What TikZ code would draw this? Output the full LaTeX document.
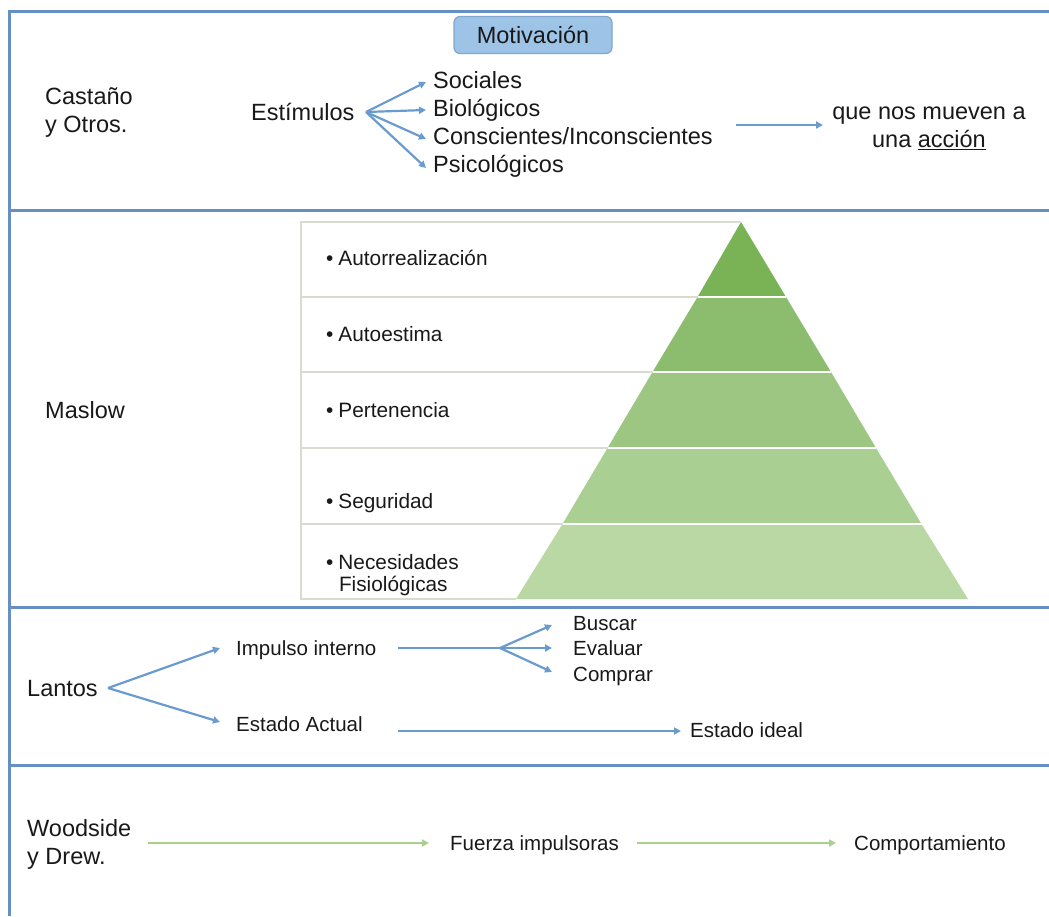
\documentclass[tikz,border=0pt]{standalone}
\usepackage{fontspec}
\setmainfont{Liberation Sans}
\usetikzlibrary{arrows.meta}
\definecolor{frameblue}{HTML}{6690C4}
\definecolor{arrblue}{HTML}{6A9BCF}
\definecolor{boxfill}{HTML}{9DC3E6}
\definecolor{boxdraw}{HTML}{7FA7D0}
\definecolor{arrgreen}{HTML}{A9D18E}
\definecolor{rowline}{HTML}{D6DDD0}
\definecolor{gA}{HTML}{7AB356}
\definecolor{gB}{HTML}{8CBD6E}
\definecolor{gC}{HTML}{9CC682}
\definecolor{gD}{HTML}{AACF93}
\definecolor{gE}{HTML}{B9D8A4}
\tikzset{
  big/.style={font=\fontsize{23.5}{28.5}\selectfont, inner sep=0pt, text=black!90},
  mid/.style={font=\fontsize{20.5}{23}\selectfont, inner sep=0pt, text=black!90},
  small/.style={font=\fontsize{20.8}{22}\selectfont, inner sep=0pt, text=black!90},
  frameline/.style={draw=frameblue, line width=3pt},
  barrow/.style={draw=arrblue, line width=2.2pt, -{Triangle[length=7pt,width=7pt]}},
  bline/.style={draw=arrblue, line width=2.2pt},
  garrow/.style={draw=arrgreen, line width=2.2pt, -{Triangle[length=7pt,width=7pt]}},
}
\begin{document}
\begin{tikzpicture}[x=1pt,y=-1pt]
\useasboundingbox (0,0) rectangle (1049,916);
\fill[white] (0,0) rectangle (1049,916);
% frame
\draw[frameline] (1049,11) -- (9,11) -- (9,916);
\draw[frameline] (9,210) -- (1049,210);
\draw[frameline] (9,607) -- (1049,607);
\draw[frameline] (9,765) -- (1049,765);

% Section 1
\node[big, draw=boxdraw, fill=boxfill, line width=1.2pt, rounded corners=6pt, minimum width=158pt, minimum height=37pt] (mot) at (533,35) {Motivación};
\node[big, anchor=base west, align=left] (cast) at (45,132.5) {Castaño\\y Otros.};
\node[big, anchor=base west] (est) at (251,120.5) {Estímulos};
\coordinate (f1) at (366,112);
\node[big, anchor=base west] (soc) at (433,88.5) {Sociales};
\node[big, anchor=base west] (bio) at (433,116.5) {Biológicos};
\node[big, anchor=base west] (con) at (433,144.5) {Conscientes/Inconscientes};
\node[big, anchor=base west] (psi) at (433,172.5) {Psicológicos};
\draw[barrow] (f1) -- (426,82);
\draw[barrow] (f1) -- (426,110);
\draw[barrow] (f1) -- (426,139);
\draw[barrow] (f1) -- (426,168);
\node[big, align=center, anchor=base] (que) at (929,147.5) {que nos mueven a\\una \underline{acción}};
\coordinate (a1) at (736,125);
\coordinate (a2) at (823,125);
\draw[barrow] (a1) -- (a2);

% Section 2: Maslow
\node[big, anchor=base west] (mas) at (45,418.5) {Maslow};
\fill[gE] (516,599) -- (968,599) -- (921.5,524) -- (562.5,524) -- cycle;
\fill[gD] (562.5,524) -- (921.5,524) -- (876,448) -- (607.5,448) -- cycle;
\fill[gC] (607.5,448) -- (876,448) -- (831,372) -- (652.5,372) -- cycle;
\fill[gB] (652.5,372) -- (831,372) -- (786,297) -- (697.5,297) -- cycle;
\fill[gA] (697.5,297) -- (786,297) -- (741,222) -- cycle;
\draw[white, line width=1.5pt] (562.5,524) -- (921.5,524) (607.5,448) -- (876,448) (652.5,372) -- (831,372) (697.5,297) -- (786,297);
\draw[rowline, line width=1.2pt] (741,222) -- (301,222) -- (301,599) -- (516,599);
\draw[rowline, line width=1.2pt] (301,297) -- (697.5,297) (301,372) -- (652.5,372) (301,448) -- (607.5,448) (301,524) -- (562.5,524);
\node[small, anchor=base west] (m1) at (326,265) {•\hspace{5pt}Autorrealización};
\node[small, anchor=base west] (m2) at (326,341) {•\hspace{5pt}Autoestima};
\node[small, anchor=base west] (m3) at (326,417) {•\hspace{5pt}Pertenencia};
\node[small, anchor=base west] (m4) at (326,508) {•\hspace{5pt}Seguridad};
\node[small, anchor=base west, align=left] (m5) at (326,591) {•\hspace{5pt}Necesidades\\\hspace{12.8pt}Fisiológicas};

% Section 3: Lantos
\node[big, anchor=base west] (lan) at (27,696.5) {Lantos};
\coordinate (l0) at (108,688);
\node[mid, anchor=base west] (imp) at (236,655.5) {Impulso interno};
\node[mid, anchor=base west] (eac) at (236,731.5) {Estado Actual};
\draw[barrow] (l0) -- (220,648);
\draw[barrow] (l0) -- (220,722);
\coordinate (i0) at (398,648);
\coordinate (i1) at (500,648);
\draw[bline] (i0) -- (i1);
\node[mid, anchor=base west] (bus) at (573,630.5) {Buscar};
\node[mid, anchor=base west] (eva) at (573,655.5) {Evaluar};
\node[mid, anchor=base west] (com) at (573,681.5) {Comprar};
\draw[barrow] (i1) -- (552,625);
\draw[barrow] (i1) -- (552,648);
\draw[barrow] (i1) -- (552,672);
\node[mid, anchor=base west] (eid) at (690,737.5) {Estado ideal};
\coordinate (e0) at (398,731);
\draw[barrow] (e0) -- (681,731);

% Section 4: Woodside
\node[big, anchor=base west, align=left] (woo) at (27,864.5) {Woodside\\y Drew.};
\node[mid, anchor=base west] (fue) at (450,850.5) {Fuerza impulsoras};
\node[mid, anchor=base west] (cmp) at (854,850.5) {Comportamiento};
\coordinate (w0) at (148,843);
\draw[garrow] (w0) -- (429,843);
\coordinate (w1) at (637,843);
\draw[garrow] (w1) -- (836,843);
\end{tikzpicture}
\end{document}
